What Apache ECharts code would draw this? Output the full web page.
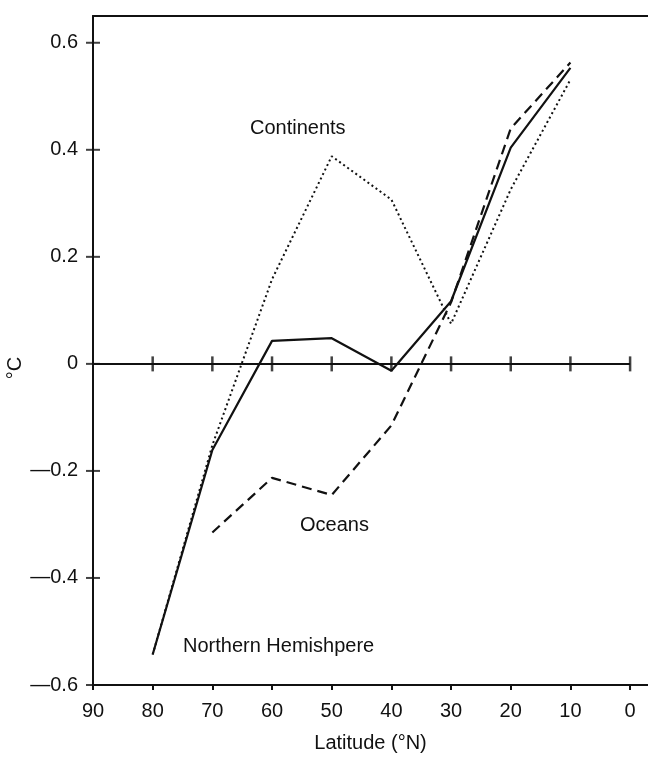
<!DOCTYPE html>
<html>
<head>
<meta charset="utf-8">
<script src="https://cdn.jsdelivr.net/npm/echarts@6/dist/echarts.min.js"></script>
<style>html,body{margin:0;padding:0;background:#fff}#c{width:648px;height:758px}</style>
</head>
<body>
<div id="c"></div>
<script>
// ---- data ----
var latitudes = [80, 70, 60, 50, 40, 30, 20, 10];
var hemisphere = [-0.543, -0.161, 0.043, 0.048, -0.013, 0.117, 0.404, 0.553];
var continents = [-0.543, -0.152, 0.158, 0.388, 0.307, 0.075, 0.326, 0.531];
var oceanLats = [70, 60, 50, 40, 30, 20, 10];
var oceans = [-0.315, -0.213, -0.245, -0.115, 0.115, 0.44, 0.563];
var xTickValues = [90, 80, 70, 60, 50, 40, 30, 20, 10, 0];
var zeroLineTicks = [80, 70, 60, 50, 40, 30, 20, 10, 0];
var yTickValues = [-0.6, -0.4, -0.2, 0, 0.2, 0.4, 0.6];

var FONT = '"Liberation Sans", Arial, Helvetica, sans-serif';
var INK = '#111';

function pairs(xs, ys) { return xs.map(function (x, i) { return [x, ys[i]]; }); }

var chart = echarts.init(document.getElementById('c'), null, {renderer: 'canvas'});
chart.setOption({
  animation: false,
  backgroundColor: '#fff',
  grid: {left: 93, right: 0, top: 16, bottom: 71},
  xAxis: [{
    type: 'value', min: -3, max: 90, inverse: true,
    axisLine: {show: true, onZero: false, lineStyle: {color: INK, width: 2}},
    axisTick: {show: true, customValues: xTickValues, length: 5, lineStyle: {color: INK, width: 2}},
    axisLabel: {customValues: xTickValues, color: INK, fontSize: 20, fontFamily: FONT, margin: 16},
    splitLine: {show: false},
    name: 'Latitude (°N)', nameLocation: 'middle', nameGap: 48,
    nameTextStyle: {color: INK, fontSize: 20, fontFamily: FONT}
  }, {
    type: 'value', min: -3, max: 90, inverse: true, position: 'top',
    axisLine: {show: true, onZero: false, lineStyle: {color: INK, width: 2}},
    axisTick: {show: false}, axisLabel: {show: false}, splitLine: {show: false}
  }],
  yAxis: {
    type: 'value', min: -0.6, max: 0.65, interval: 0.2,
    axisLine: {show: true, onZero: false, lineStyle: {color: INK, width: 2}},
    axisTick: {show: false},
    axisLabel: {
      color: INK, fontSize: 20, fontFamily: FONT, margin: 15, showMaxLabel: false,
      formatter: function (v) {
        var r = Math.round(v * 10) / 10;
        if (r > 0.65) return '';
        if (Math.abs(r) < 1e-9) return '0';
        return (r < 0 ? '\u2014' : '') + Math.abs(r).toFixed(1);
      }
    },
    splitLine: {show: false}
  },
  graphic: [
    {type: 'text', left: 302 - 52, top: 118, style: {text: 'Continents', fill: INK, font: '20px ' + FONT}},
    {type: 'text', left: 300, top: 515, style: {text: 'Oceans', fill: INK, font: '20px ' + FONT}},
    {type: 'text', left: 183, top: 636, style: {text: 'Northern Hemishpere', fill: INK, font: '20px ' + FONT}},
    {type: 'text', x: 5, y: 368, rotation: Math.PI / 2, style: {text: '°C', fill: INK, font: '20px ' + FONT, textAlign: 'center', textVerticalAlign: 'top'}}
  ],
  series: [
    {
      name: 'Zero line', type: 'line', data: [[90, 0], [0, 0]], symbol: 'none',
      lineStyle: {color: INK, width: 2}, z: 1
    },
    {
      name: 'Zero ticks', type: 'scatter', data: zeroLineTicks.map(function (x) { return [x, 0]; }),
      symbol: 'rect', symbolSize: [2.5, 15], itemStyle: {color: INK}, z: 2
    },
    {
      name: 'Y ticks', type: 'scatter', data: yTickValues.map(function (y) { return [90, y]; }),
      symbol: 'rect', symbolSize: [14, 2], itemStyle: {color: INK}, z: 2
    },
    {
      name: 'Continents', type: 'line', data: pairs(latitudes, continents), symbol: 'none',
      lineStyle: {color: INK, width: 2, type: [2, 3]}, z: 3
    },
    {
      name: 'Oceans', type: 'line', data: pairs(oceanLats, oceans), symbol: 'none',
      lineStyle: {color: INK, width: 2.2, type: [10, 6]}, z: 3
    },
    {
      name: 'Northern Hemisphere', type: 'line', data: pairs(latitudes, hemisphere), symbol: 'none',
      lineStyle: {color: INK, width: 2.2}, z: 4
    }
  ]
});
</script>
</body>
</html>
